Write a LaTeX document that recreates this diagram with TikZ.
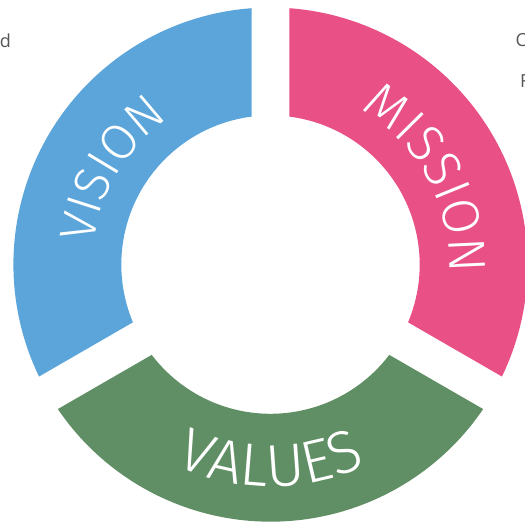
\documentclass[tikz,border=0pt]{standalone}
\usepackage{fontspec}
\setmainfont{Open Sans}
\newfontfamily\ringfam{Fira Sans Light}
\usetikzlibrary{decorations.text}
\definecolor{visionblue}{HTML}{5BA5DA}
\definecolor{missionpink}{HTML}{E85086}
\definecolor{valuesgreen}{HTML}{618F65}
\definecolor{sidegray}{HTML}{555555}
\tikzset{
  ringtext/.style 2 args={decorate,decoration={text along path,text align=center,text color=white,text={|\ringfam\fontsize{#2}{#2}\selectfont|#1}}},
  sidetext/.style={inner sep=0pt,text=sidegray,font=\fontsize{18}{22}\selectfont}
}
\begin{document}
\begin{tikzpicture}
\useasboundingbox (-270.5pt,-259.4pt) rectangle (254.5pt,264.6pt);
\fill[visionblue] (94.19:257.1pt) arc[start angle=94.19,end angle=205.81,radius=257.1pt] -- (202.76:149.2pt) arc[start angle=202.76,end angle=97.24,radius=149.2pt] -- cycle;
\fill[missionpink] (-25.81:257.1pt) arc[start angle=-25.81,end angle=85.81,radius=257.1pt] -- (82.76:149.2pt) arc[start angle=82.76,end angle=-22.76,radius=149.2pt] -- cycle;
\fill[valuesgreen] (214.19:257.1pt) arc[start angle=214.19,end angle=325.81,radius=257.1pt] -- (322.76:149.2pt) arc[start angle=322.76,end angle=217.24,radius=149.2pt] -- cycle;
\path[ringtext={VISION}{50}] (199:178pt) arc[start angle=199,end angle=99,radius=178pt];
\path[ringtext={MISSION}{52}] (78.5:179pt) arc[start angle=78.5,end angle=-21.5,radius=179pt];
\path[ringtext={VALUES}{60}] (220:222pt) arc[start angle=220,end angle=320,radius=222pt];
\node[sidetext,anchor=base east] (leftword) at (-259.5pt,216.6pt) {d};
\node[sidetext,anchor=base west] (rightword) at (245pt,217.9pt) {C};
\node[sidetext,anchor=base west] (rightline) at (249.5pt,176.6pt) {F};
\end{tikzpicture}
\end{document}
